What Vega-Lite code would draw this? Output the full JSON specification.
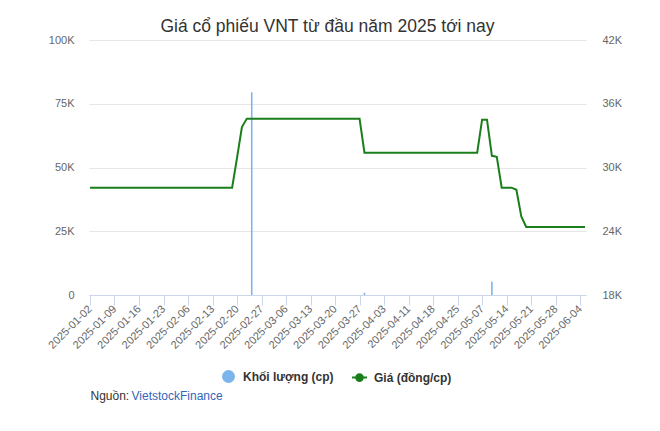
{
  "$schema": "https://vega.github.io/schema/vega-lite/v6.json",
  "autosize": {"type": "none"},
  "width": 497,
  "height": 255,
  "padding": {"left": 89, "top": 40, "right": 74, "bottom": 136},
  "background": "#ffffff",
  "title": {
    "text": "Giá cổ phiếu VNT từ đầu năm 2025 tới nay",
    "font": "Liberation Sans",
    "fontSize": 17.5,
    "fontWeight": "normal",
    "color": "#333333",
    "anchor": "middle",
    "baseline": "alphabetic",
    "offset": 6,
    "dx": -10,
    "dy": 21
  },
  "config": {
    "view": {"stroke": null},
    "font": "Liberation Sans",
    "axis": {"labelFont": "Liberation Sans", "labelFontSize": 11, "labelColor": "#666666", "titleFont": "Liberation Sans"}
  },
  "data": {
    "values": [
      {"d": "2025-01-02", "v": 0, "p": 28100},
      {"d": "2025-01-03", "v": 0, "p": 28100},
      {"d": "2025-01-06", "v": 0, "p": 28100},
      {"d": "2025-01-07", "v": 0, "p": 28100},
      {"d": "2025-01-08", "v": 0, "p": 28100},
      {"d": "2025-01-09", "v": 0, "p": 28100},
      {"d": "2025-01-10", "v": 0, "p": 28100},
      {"d": "2025-01-13", "v": 0, "p": 28100},
      {"d": "2025-01-14", "v": 0, "p": 28100},
      {"d": "2025-01-15", "v": 0, "p": 28100},
      {"d": "2025-01-16", "v": 0, "p": 28100},
      {"d": "2025-01-17", "v": 0, "p": 28100},
      {"d": "2025-01-20", "v": 0, "p": 28100},
      {"d": "2025-01-21", "v": 0, "p": 28100},
      {"d": "2025-01-22", "v": 0, "p": 28100},
      {"d": "2025-01-23", "v": 0, "p": 28100},
      {"d": "2025-01-24", "v": 0, "p": 28100},
      {"d": "2025-02-03", "v": 0, "p": 28100},
      {"d": "2025-02-04", "v": 0, "p": 28100},
      {"d": "2025-02-05", "v": 0, "p": 28100},
      {"d": "2025-02-06", "v": 0, "p": 28100},
      {"d": "2025-02-07", "v": 0, "p": 28100},
      {"d": "2025-02-10", "v": 0, "p": 28100},
      {"d": "2025-02-11", "v": 0, "p": 28100},
      {"d": "2025-02-12", "v": 0, "p": 28100},
      {"d": "2025-02-13", "v": 0, "p": 28100},
      {"d": "2025-02-14", "v": 0, "p": 28100},
      {"d": "2025-02-17", "v": 0, "p": 28100},
      {"d": "2025-02-18", "v": 0, "p": 28100},
      {"d": "2025-02-19", "v": 0, "p": 28100},
      {"d": "2025-02-20", "v": 0, "p": 30900},
      {"d": "2025-02-21", "v": 0, "p": 33800},
      {"d": "2025-02-24", "v": 0, "p": 34600},
      {"d": "2025-02-25", "v": 79500, "p": 34600},
      {"d": "2025-02-26", "v": 0, "p": 34600},
      {"d": "2025-02-27", "v": 0, "p": 34600},
      {"d": "2025-02-28", "v": 0, "p": 34600},
      {"d": "2025-03-03", "v": 0, "p": 34600},
      {"d": "2025-03-04", "v": 0, "p": 34600},
      {"d": "2025-03-05", "v": 0, "p": 34600},
      {"d": "2025-03-06", "v": 0, "p": 34600},
      {"d": "2025-03-07", "v": 0, "p": 34600},
      {"d": "2025-03-10", "v": 0, "p": 34600},
      {"d": "2025-03-11", "v": 0, "p": 34600},
      {"d": "2025-03-12", "v": 0, "p": 34600},
      {"d": "2025-03-13", "v": 0, "p": 34600},
      {"d": "2025-03-14", "v": 0, "p": 34600},
      {"d": "2025-03-17", "v": 0, "p": 34600},
      {"d": "2025-03-18", "v": 0, "p": 34600},
      {"d": "2025-03-19", "v": 0, "p": 34600},
      {"d": "2025-03-20", "v": 0, "p": 34600},
      {"d": "2025-03-21", "v": 0, "p": 34600},
      {"d": "2025-03-24", "v": 0, "p": 34600},
      {"d": "2025-03-25", "v": 0, "p": 34600},
      {"d": "2025-03-26", "v": 0, "p": 34600},
      {"d": "2025-03-27", "v": 0, "p": 34600},
      {"d": "2025-03-28", "v": 900, "p": 31400},
      {"d": "2025-03-31", "v": 0, "p": 31400},
      {"d": "2025-04-01", "v": 0, "p": 31400},
      {"d": "2025-04-02", "v": 0, "p": 31400},
      {"d": "2025-04-03", "v": 0, "p": 31400},
      {"d": "2025-04-04", "v": 0, "p": 31400},
      {"d": "2025-04-08", "v": 0, "p": 31400},
      {"d": "2025-04-09", "v": 0, "p": 31400},
      {"d": "2025-04-10", "v": 0, "p": 31400},
      {"d": "2025-04-11", "v": 0, "p": 31400},
      {"d": "2025-04-14", "v": 0, "p": 31400},
      {"d": "2025-04-15", "v": 0, "p": 31400},
      {"d": "2025-04-16", "v": 0, "p": 31400},
      {"d": "2025-04-17", "v": 0, "p": 31400},
      {"d": "2025-04-18", "v": 0, "p": 31400},
      {"d": "2025-04-21", "v": 0, "p": 31400},
      {"d": "2025-04-22", "v": 0, "p": 31400},
      {"d": "2025-04-23", "v": 0, "p": 31400},
      {"d": "2025-04-24", "v": 0, "p": 31400},
      {"d": "2025-04-25", "v": 0, "p": 31400},
      {"d": "2025-04-28", "v": 0, "p": 31400},
      {"d": "2025-04-29", "v": 0, "p": 31400},
      {"d": "2025-05-05", "v": 0, "p": 31400},
      {"d": "2025-05-06", "v": 0, "p": 31400},
      {"d": "2025-05-07", "v": 0, "p": 34500},
      {"d": "2025-05-08", "v": 0, "p": 34500},
      {"d": "2025-05-09", "v": 5200, "p": 31100},
      {"d": "2025-05-12", "v": 0, "p": 31000},
      {"d": "2025-05-13", "v": 0, "p": 28100},
      {"d": "2025-05-14", "v": 0, "p": 28100},
      {"d": "2025-05-15", "v": 0, "p": 28100},
      {"d": "2025-05-16", "v": 0, "p": 27900},
      {"d": "2025-05-19", "v": 0, "p": 25400},
      {"d": "2025-05-20", "v": 0, "p": 24400},
      {"d": "2025-05-21", "v": 0, "p": 24400},
      {"d": "2025-05-22", "v": 0, "p": 24400},
      {"d": "2025-05-23", "v": 0, "p": 24400},
      {"d": "2025-05-26", "v": 0, "p": 24400},
      {"d": "2025-05-27", "v": 0, "p": 24400},
      {"d": "2025-05-28", "v": 0, "p": 24400},
      {"d": "2025-05-29", "v": 0, "p": 24400},
      {"d": "2025-05-30", "v": 0, "p": 24400},
      {"d": "2025-06-02", "v": 0, "p": 24400},
      {"d": "2025-06-03", "v": 0, "p": 24400},
      {"d": "2025-06-04", "v": 0, "p": 24400},
      {"d": "2025-06-05", "v": 0, "p": 24400}
    ]
  },
  "encoding": {
    "x": {
      "field": "d",
      "type": "ordinal",
      "sort": null,
      "scale": {"type": "point", "padding": 0.2},
      "axis": {
        "values": ["2025-01-02","2025-01-09","2025-01-16","2025-01-23","2025-02-06","2025-02-13","2025-02-20","2025-02-27","2025-03-06","2025-03-13","2025-03-20","2025-03-27","2025-04-03","2025-04-11","2025-04-18","2025-04-25","2025-05-07","2025-05-14","2025-05-21","2025-05-28","2025-06-04"],
        "labelAngle": -45,
        "labelAlign": "right",
        "labelBaseline": "middle",
        "labelPadding": 2,
        "tickSize": 10,
        "tickColor": "#ccd6eb",
        "domainColor": "#ccd6eb",
        "grid": false,
        "title": "Nguồn:",
        "titleX": 1,
        "titleY": 104,
        "titleAlign": "left",
        "titleBaseline": "alphabetic",
        "titleAngle": 0,
        "titleFontSize": 12,
        "titleFontWeight": "normal",
        "titleColor": "#333333"
      }
    }
  },
  "layer": [
    {
      "mark": {"type": "bar", "width": 1.6},
      "encoding": {
        "y": {
          "field": "v",
          "type": "quantitative",
          "scale": {"domain": [0, 100000], "nice": false},
          "axis": {
            "values": [0, 25000, 50000, 75000, 100000],
            "labelExpr": "datum.value == 0 ? '0' : (datum.value / 1000) + 'K'",
            "domain": false,
            "ticks": false,
            "labelPadding": 15,
            "grid": true,
            "gridColor": "#e6e6e6",
            "title": "VietstockFinance",
            "titleX": 42,
            "titleY": 359,
            "titleAngle": 0,
            "titleAlign": "left",
            "titleBaseline": "alphabetic",
            "titleFontSize": 12,
            "titleFontWeight": "normal",
            "titleColor": "#3366bb"
          }
        },
        "color": {
          "datum": "Khối lượng (cp)",
          "scale": {"domain": ["Khối lượng (cp)", "Giá (đồng/cp)"], "range": ["#7cb5ec", "#1a7f1a"]},
          "legend": {
            "orient": "none",
            "direction": "horizontal",
            "legendX": 133,
            "legendY": 330,
            "title": null,
            "labelFont": "Liberation Sans",
            "labelFontSize": 12,
            "labelFontWeight": "bold",
            "labelColor": "#333333",
            "labelOffset": 8,
            "columnPadding": 14,
            "symbolSize": 121,
            "symbolType": "circle",
            "encode": {
              "symbols": {
                "update": {
                  "shape": {"signal": "datum.value === 'Giá (đồng/cp)' ? 'M-1.36,0H1.36M-0.6,0A0.6,0.6,0,1,1,0.6,0A0.6,0.6,0,1,1,-0.6,0Z' : 'circle'"},
                  "fill": {"signal": "datum.value === 'Giá (đồng/cp)' ? '#1a7f1a' : '#7cb5ec'"},
                  "stroke": {"signal": "datum.value === 'Giá (đồng/cp)' ? '#1a7f1a' : 'transparent'"},
                  "strokeWidth": {"value": 2},
                  "opacity": {"value": 1},
                  "fillOpacity": {"value": 1}
                }
              }
            }
          }
        }
      }
    },
    {
      "mark": {"type": "line", "strokeWidth": 2, "color": "#1a7f1a"},
      "encoding": {
        "y": {
          "field": "p",
          "type": "quantitative",
          "scale": {"domain": [18000, 42000], "nice": false, "zero": false},
          "axis": {
            "orient": "right",
            "values": [18000, 24000, 30000, 36000, 42000],
            "labelExpr": "(datum.value / 1000) + 'K'",
            "domain": false,
            "ticks": false,
            "labelPadding": 16,
            "grid": false,
            "title": null
          }
        },
        "color": {"datum": "Giá (đồng/cp)"}
      }
    }
  ],
  "resolve": {"scale": {"y": "independent"}, "axis": {"y": "independent"}}
}
